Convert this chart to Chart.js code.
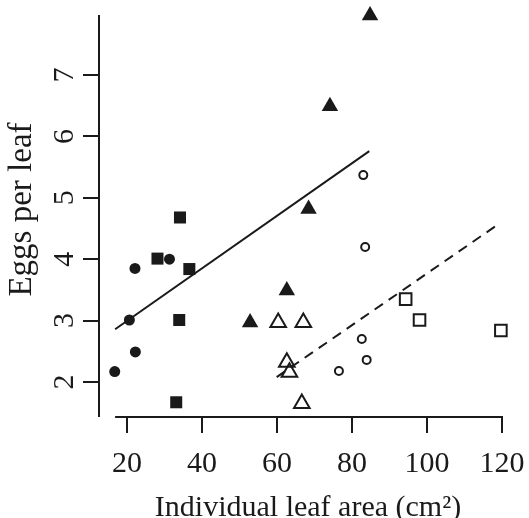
<!DOCTYPE html>
<html><head><meta charset="utf-8">
<script src="https://cdn.jsdelivr.net/npm/chart.js@4/dist/chart.umd.min.js"></script>
<style>html,body{margin:0;padding:0;background:#fff}canvas{display:block}</style>
</head><body>
<canvas id="c" width="529" height="518"></canvas>
<script>
// ---- data ----
const xTicks = [20, 40, 60, 80, 100, 120];
const yTicks = [2, 3, 4, 5, 6, 7];
const xTitle = 'Individual leaf area (cm²)';
const yTitle = 'Eggs per leaf';

const filledCircleX = [16.7, 20.6, 22.1, 22.2, 31.3];
const filledCircleY = [2.17, 3.01, 3.85, 2.49, 4.00];
const filledSquareX = [28.1, 34.1, 36.6, 33.9, 33.1];
const filledSquareY = [4.01, 4.68, 3.84, 3.01, 1.67];
const filledTriangleX = [52.8, 62.6, 68.4, 74.1, 84.8];
const filledTriangleY = [2.97, 3.49, 4.82, 6.49, 7.97];
const openTriangleX = [60.3, 67.0, 62.6, 63.3, 66.6];
const openTriangleY = [2.97, 2.97, 2.32, 2.16, 1.65];
const openCircleX = [76.5, 82.6, 83.9, 83.5, 83.0];
const openCircleY = [2.18, 2.70, 2.36, 4.20, 5.37];
const openSquareX = [94.3, 98.0, 119.7];
const openSquareY = [3.35, 3.01, 2.84];

const solidFitX = [16.8, 84.6];
const solidFitY = [2.86, 5.76];
const dashedFitX = [59.9, 119.5];
const dashedFitY = [2.08, 4.59];

const xRange = [12.5, 124];
const yRange = [1.43, 8.19];
const xAxisLine = [16.8, 120];
const yAxisLine = [1.43, 7.98];

// ---- build ----
const INK = '#1a1a1a';
const FONT = 'Liberation Serif, Times New Roman, serif';
const pts = (xs, ys) => xs.map((x, i) => ({x, y: ys[i]}));

const markerSet = (data, style, r, filled) => ({
  type: 'scatter', data, pointStyle: style, pointRadius: r, pointHoverRadius: r,
  backgroundColor: filled ? INK : 'rgba(0,0,0,0)', borderColor: INK,
  borderWidth: filled ? 0 : 2, clip: false, order: 2
});
const lineSet = (data, dash) => ({
  type: 'line', data, showLine: true, borderColor: INK, borderWidth: 2,
  borderDash: dash, pointRadius: 0, fill: false, clip: false, order: 1
});

const axisLines = {
  id: 'axisLines',
  afterDraw(chart) {
    const {ctx, chartArea, scales: {x, y}} = chart;
    ctx.save();
    ctx.strokeStyle = INK; ctx.lineWidth = 2; ctx.lineCap = 'butt';
    ctx.beginPath();
    ctx.moveTo(x.getPixelForValue(xAxisLine[0]), chartArea.bottom);
    ctx.lineTo(x.getPixelForValue(xAxisLine[1]) + 1, chartArea.bottom);
    ctx.moveTo(chartArea.left, y.getPixelForValue(yAxisLine[0]));
    ctx.lineTo(chartArea.left, y.getPixelForValue(yAxisLine[1]));
    ctx.stroke();
    ctx.restore();
  }
};

const zeroPad = s => { s.paddingTop = 0; s.paddingBottom = 0; s.paddingLeft = 0; s.paddingRight = 0; };

new Chart(document.getElementById('c'), {
  type: 'scatter',
  data: {
    datasets: [
      markerSet(pts(filledCircleX, filledCircleY), 'circle', 5.5, true),
      markerSet(pts(filledSquareX, filledSquareY), 'rect', 8.5, true),
      markerSet(pts(filledTriangleX, filledTriangleY), 'triangle', 9.5, true),
      markerSet(pts(openTriangleX, openTriangleY), 'triangle', 9, false),
      markerSet(pts(openCircleX, openCircleY), 'circle', 4, false),
      markerSet(pts(openSquareX, openSquareY), 'rect', 8.2, false),
      lineSet(pts(solidFitX, solidFitY), []),
      lineSet(pts(dashedFitX, dashedFitY), [10, 7])
    ]
  },
  options: {
    responsive: false, animation: false, devicePixelRatio: 1,
    layout: {autoPadding: false, padding: {top: 2, right: 12, left: 0, bottom: 0}},
    plugins: {legend: {display: false}, tooltip: {enabled: false}},
    scales: {
      x: {
        type: 'linear', min: xRange[0], max: xRange[1],
        afterBuildTicks: s => { s.ticks = xTicks.map(v => ({value: v})); },
        afterFit: s => { s.height = 101; zeroPad(s); },
        border: {display: false},
        grid: {drawOnChartArea: false, drawTicks: true, tickLength: 16, lineWidth: 2, color: INK},
        ticks: {color: INK, font: {family: FONT, size: 30}, padding: 13, maxRotation: 0, minRotation: 0,
                callback: v => String(v)},
        title: {display: true, text: xTitle, color: INK, font: {family: FONT, size: 30, lineHeight: 0.6},
                padding: {top: 0, bottom: 1}}
      },
      y: {
        type: 'linear', min: yRange[0], max: yRange[1],
        afterBuildTicks: s => { s.ticks = yTicks.map(v => ({value: v})); },
        afterFit: s => { s.width = 99; zeroPad(s); },
        border: {display: false},
        grid: {drawOnChartArea: false, drawTicks: true, tickLength: 16, lineWidth: 2, color: INK},
        ticks: {color: INK, font: {family: FONT, size: 30}, padding: 10, minRotation: 90, maxRotation: 90,
                crossAlign: 'center', callback: v => String(v)},
        title: {display: true, text: yTitle, color: INK, font: {family: FONT, size: 33},
                padding: {top: 3, bottom: 0}}
      }
    }
  },
  plugins: [axisLines]
});
</script>
</body></html>
